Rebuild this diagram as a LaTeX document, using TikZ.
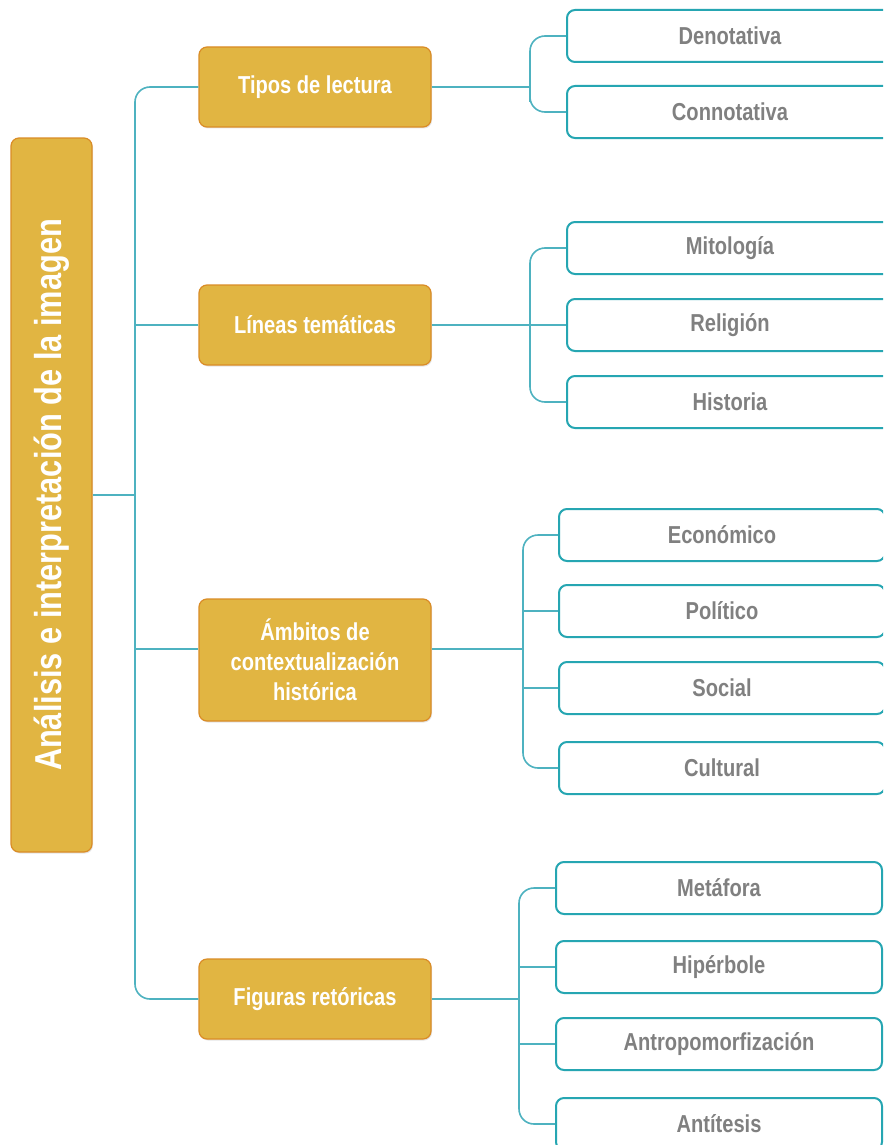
\documentclass[tikz,border=0pt]{standalone}
\usepackage{fontspec}
\newfontfamily\narrowsans[FakeStretch=0.82]{Liberation Sans}
\usetikzlibrary{shadows}
\definecolor{goldfill}{RGB}{225,181,66}
\definecolor{golddraw}{RGB}{218,140,38}
\definecolor{tealbox}{RGB}{38,166,178}
\definecolor{tealline}{RGB}{78,178,192}
\definecolor{graytext}{RGB}{128,128,128}
\tikzset{
  rootbox/.style={draw=golddraw, line width=1.2pt, fill=goldfill, rounded corners=8pt,
    rotate=90, minimum width=714pt, minimum height=81pt, inner sep=0pt,
    text=white, font=\narrowsans\bfseries\fontsize{37.5}{40}\selectfont,
    drop shadow={opacity=0.2, shadow xshift=1pt, shadow yshift=-1.5pt}},
  topicbox/.style={draw=golddraw, line width=1.2pt, fill=goldfill, rounded corners=8pt,
    minimum width=232pt, minimum height=80pt, inner sep=0pt, align=center,
    text=white, font=\narrowsans\bfseries\fontsize{24.5}{30}\selectfont,
    drop shadow={opacity=0.2, shadow xshift=1pt, shadow yshift=-1.5pt}},
  leafbox/.style={draw=tealbox, line width=2pt, fill=white, rounded corners=8pt,
    minimum width=326pt, minimum height=52pt, inner sep=0pt,
    text=graytext, font=\narrowsans\bfseries\fontsize{24.5}{30}\selectfont},
  conn/.style={draw=tealline, line width=1.6pt},
}
\begin{document}
\begin{tikzpicture}[x=1pt, y=-1pt]
\clip (0,0) rectangle (883,1145);
\fill[white] (0,0) rectangle (883,1145);

% root
\node[rootbox] (root) at (51.5,495) {Análisis e interpretación de la imagen};

% level 1
\node[topicbox] (t1) at (315,87) {Tipos de lectura};
\node[topicbox] (t2) at (315,325) {Líneas temáticas};
\node[topicbox, minimum height=122pt] (t3) at (315,660) {Ámbitos de\\contextualización\\histórica};
\node[topicbox] (t4) at (315,999) {Figuras retóricas};

% level 2
\node[leafbox] (d1) at (730,36) {Denotativa};
\node[leafbox] (d2) at (730,112) {Connotativa};

\node[leafbox] (m1) at (730,248) {Mitología};
\node[leafbox] (m2) at (730,325) {Religión};
\node[leafbox] (m3) at (730,402) {Historia};

\node[leafbox] (e1) at (722,535) {Económico};
\node[leafbox] (e2) at (722,611) {Político};
\node[leafbox] (e3) at (722,688) {Social};
\node[leafbox] (e4) at (722,768) {Cultural};

\node[leafbox] (f1) at (719,888) {Metáfora};
\node[leafbox] (f2) at (719,967) {Hipérbole};
\node[leafbox] (f3) at (719,1044) {Antropomorfización};
\node[leafbox] (f4) at (719,1124) {Antítesis};

% connector hubs
\coordinate (mt) at (135,495);
\coordinate (t3r) at ([yshift=11pt]t3.east);
\coordinate (t3l) at ([yshift=11pt]t3.west);
\coordinate (g1) at (530,87);
\coordinate (g2) at (530,325);
\coordinate (g3) at (523,649);
\coordinate (g4) at (519,999);

% main trunk
\draw[conn, rounded corners=15pt] (t1.west) -| (mt) |- (t4.west);
\draw[conn] (root.south) -- (mt);
\draw[conn] (mt |- t2.west) -- (t2.west);
\draw[conn] (mt |- t3l) -- (t3l);

% group 1
\draw[conn] (t1.east) -- (g1);
\draw[conn, rounded corners=15pt] (d1.west) -| (g1) |- (d2.west);

% group 2
\draw[conn, rounded corners=15pt] (m1.west) -| (g2) |- (m3.west);
\draw[conn] (t2.east) -- (m2.west);

% group 3
\draw[conn] (t3r) -- (g3);
\draw[conn, rounded corners=15pt] (e1.west) -| (g3) |- (e4.west);
\draw[conn] (g3 |- e2.west) -- (e2.west);
\draw[conn] (g3 |- e3.west) -- (e3.west);

% group 4
\draw[conn] (t4.east) -- (g4);
\draw[conn, rounded corners=15pt] (f1.west) -| (g4) |- (f4.west);
\draw[conn] (g4 |- f2.west) -- (f2.west);
\draw[conn] (g4 |- f3.west) -- (f3.west);
\end{tikzpicture}
\end{document}
